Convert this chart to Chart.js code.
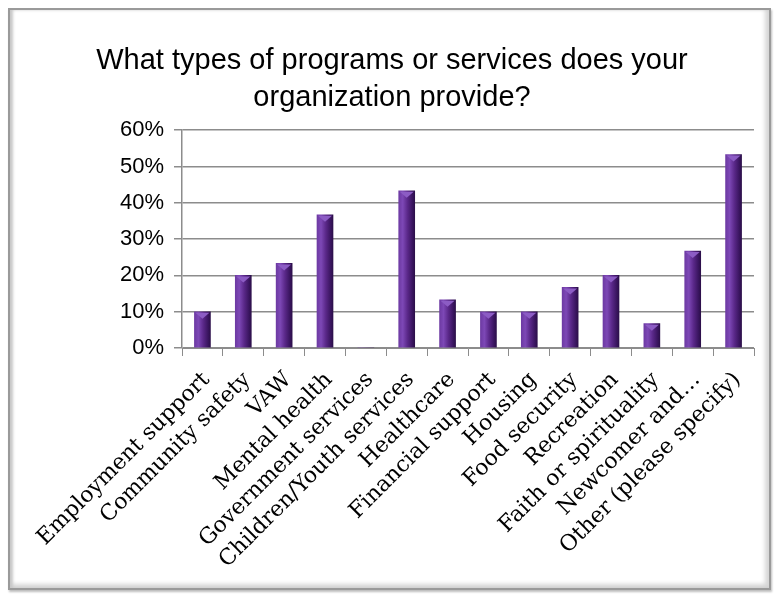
<!DOCTYPE html>
<html>
<head>
<meta charset="utf-8">
<script src="https://cdn.jsdelivr.net/npm/chart.js@4.4.1/dist/chart.umd.min.js"></script>
<style>
    html, body { margin: 0; padding: 0; background: #fff; }
    .frame {
        position: absolute;
        left: 8px;
        top: 8px;
        width: 759px;
        height: 578px;
        border: 2px solid #9a9a9a;
        box-shadow: inset 3px 0 3px #c8c8c8, inset -4px -4px 4px #d6d6d6, 1px 2px 2px #bdbdbd;
        background: #fff;
    }
    #chart { position: absolute; left: 0; top: 0; }
</style>
</head>
<body>
<div class="frame"></div>
<canvas id="chart" width="777" height="595"></canvas>
<script>
const TITLE = ['What types of programs or services does your', 'organization provide?'];

const categories = [
    'Employment support',
    'Community safety',
    'VAW',
    'Mental health',
    'Government services',
    'Children/Youth services',
    'Healthcare',
    'Financial support',
    'Housing',
    'Food security',
    'Recreation',
    'Faith or spirituality',
    'Newcomer and…',
    'Other (please specify)',
];

// percent of respondents
const shares = [10, 20, 23.3, 36.7, 0, 43.3, 13.3, 10, 10, 16.7, 20, 6.7, 26.7, 53.3];

const yTicks = [0, 10, 20, 30, 40, 50, 60];

const GRID = '#8c8c8c';
const BAR_W = 16;

// shade each bar like a cylinder: light left edge, dark right edge
function cylinderFill(c) {
    const chart = c.chart;
    const x = chart.scales.x.getPixelForValue(c.dataIndex);
    if (!isFinite(x)) { return '#5b2a8c'; }
    const g = chart.ctx.createLinearGradient(x - BAR_W / 2, 0, x + BAR_W / 2, 0);
    g.addColorStop(0, '#6d3aa3');
    g.addColorStop(0.25, '#7d48b6');
    g.addColorStop(0.55, '#5a2889');
    g.addColorStop(0.85, '#3a1560');
    g.addColorStop(1, '#2c0f4a');
    return g;
}

const capPlugin = {
    id: 'caps',
    afterDatasetsDraw(chart) {
        const { ctx } = chart;
        const meta = chart.getDatasetMeta(0);
        ctx.save();
        meta.data.forEach((bar, i) => {
            if (!shares[i]) { return; }
            ctx.fillStyle = '#8c5cc4';
            ctx.beginPath();
            ctx.moveTo(bar.x - BAR_W / 2 + 1, bar.y + 1);
            ctx.lineTo(bar.x + BAR_W / 2 - 1, bar.y + 1);
            ctx.lineTo(bar.x, bar.y + 7);
            ctx.closePath();
            ctx.fill();
        });
        ctx.restore();
    },
};

new Chart(document.getElementById('chart'), {
    type: 'bar',
    plugins: [capPlugin],
    data: {
        labels: categories,
        datasets: [{
            data: shares,
            backgroundColor: cylinderFill,
            borderWidth: 0,
            barThickness: BAR_W,
        }],
    },
    options: {
        responsive: false,
        animation: false,
        layout: {
            padding: { left: 30, right: 23, top: 0, bottom: 0 },
        },
        plugins: {
            legend: { display: false },
            tooltip: { enabled: false },
            title: {
                display: true,
                text: TITLE,
                color: '#000',
                font: { family: '"Liberation Sans", Arial, sans-serif', size: 29, weight: 'normal', lineHeight: 1.28 },
                padding: { top: 42, bottom: 14 },
            },
        },
        scales: {
            x: {
                offset: true,
                afterFit(s) { s.height = 595 - 348; },
                border: { display: true, color: GRID, width: 1 },
                grid: {
                    offset: true,
                    drawOnChartArea: false,
                    drawTicks: true,
                    tickLength: 8,
                    color: GRID,
                },
                ticks: {
                    autoSkip: false,
                    maxRotation: 45,
                    minRotation: 45,
                    padding: 11,
                    labelOffset: 4,
                    color: '#000',
                    font: { family: '"DejaVu Serif", serif', size: 22 },
                },
            },
            y: {
                min: 0,
                max: 60,
                afterFit(s) { s.width = 152; },
                afterBuildTicks(s) { s.ticks = yTicks.map(v => ({ value: v })); },
                border: { display: true, color: GRID, width: 1.5 },
                grid: {
                    color: GRID,
                    lineWidth: 1.5,
                    drawTicks: true,
                    tickLength: 8,
                },
                ticks: {
                    padding: 10,
                    color: '#000',
                    font: { family: '"Liberation Sans", Arial, sans-serif', size: 22 },
                    callback: v => v + '%',
                },
            },
        },
    },
});
</script>
</body>
</html>
